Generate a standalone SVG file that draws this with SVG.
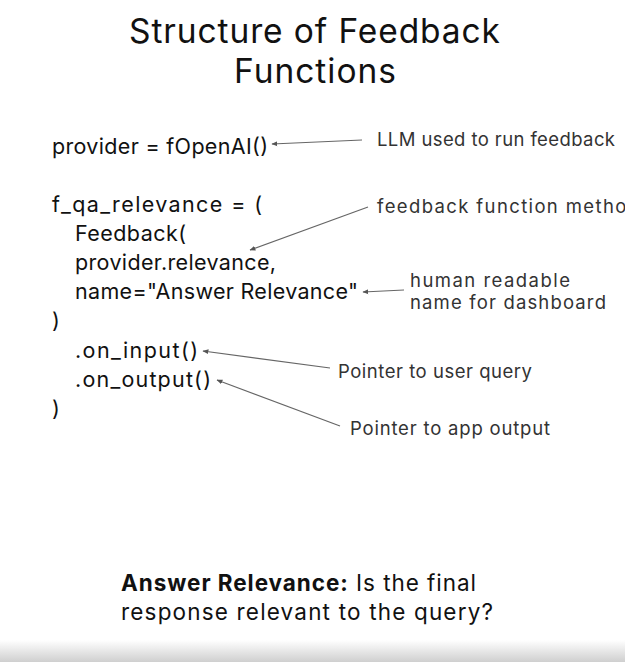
<svg xmlns="http://www.w3.org/2000/svg" width="625" height="662" viewBox="0 0 625 662">
<defs>
<linearGradient id="bot" x1="0" y1="0" x2="0" y2="1">
<stop offset="0" stop-color="#ffffff"/>
<stop offset="1" stop-color="#cfcfcf"/>
</linearGradient>
<marker id="ah" viewBox="0 0 10 10" refX="9" refY="5" markerWidth="6" markerHeight="6" orient="auto" markerUnits="userSpaceOnUse">
<path d="M0,1 L10,5 L0,9 Z" fill="#555"/>
</marker>
<style>
text{font-family:Inter,"Noto Sans",sans-serif;}
.title{font-size:33.5px;fill:#111;text-anchor:middle;}
.code{font-size:21.5px;fill:#111;}
.lab{font-size:18.5px;fill:#333;}
.bot{font-size:22.5px;fill:#111;}
.arr{stroke:#666;stroke-width:1.2;fill:none;marker-end:url(#ah);}
</style>
</defs>
<rect width="625" height="662" fill="#fff"/>
<rect x="0" y="640" width="625" height="22" fill="url(#bot)"/>
<g id="title">
<text class="title" x="314.5" y="43" textLength="371" lengthAdjust="spacing">Structure of Feedback</text>
<text class="title" x="315" y="83" textLength="162" lengthAdjust="spacing">Functions</text>
</g>
<g id="code">
<text class="code" x="52" y="154" textLength="216" lengthAdjust="spacing">provider = fOpenAI()</text>
<text class="code" x="52" y="212" textLength="210" lengthAdjust="spacing">f_qa_relevance = (</text>
<text class="code" x="75" y="241" textLength="111" lengthAdjust="spacing">Feedback(</text>
<text class="code" x="75" y="270" textLength="201" lengthAdjust="spacing">provider.relevance,</text>
<text class="code" x="75" y="299" textLength="283" lengthAdjust="spacing">name="Answer Relevance"</text>
<text class="code" x="52" y="328">)</text>
<text class="code" x="75" y="358" textLength="123" lengthAdjust="spacing">.on_input()</text>
<text class="code" x="75" y="387" textLength="136" lengthAdjust="spacing">.on_output()</text>
<text class="code" x="52" y="416">)</text>
</g>
<g id="labels">
<text class="lab" x="377" y="146" textLength="238" lengthAdjust="spacing">LLM used to run feedback</text>
<text class="lab" x="377" y="213" textLength="262" lengthAdjust="spacing">feedback function method</text>
<text class="lab" x="410" y="287" textLength="160" lengthAdjust="spacing">human readable</text>
<text class="lab" x="410" y="309" textLength="196" lengthAdjust="spacing">name for dashboard</text>
<text class="lab" x="338" y="378" textLength="194" lengthAdjust="spacing">Pointer to user query</text>
<text class="lab" x="350" y="435" textLength="200" lengthAdjust="spacing">Pointer to app output</text>
</g>
<g id="connectors">
<line class="arr" x1="362" y1="140" x2="272" y2="144"/>
<line class="arr" x1="368" y1="207" x2="250" y2="250"/>
<line class="arr" x1="404" y1="290" x2="363" y2="292"/>
<line class="arr" x1="330" y1="368" x2="203" y2="351"/>
<line class="arr" x1="340" y1="426" x2="217" y2="380"/>
</g>
<g id="summary">
<text class="bot" x="121" y="591" textLength="355" lengthAdjust="spacing"><tspan font-weight="bold">Answer Relevance:</tspan> Is the final</text>
<text class="bot" x="121" y="620" textLength="372" lengthAdjust="spacing">response relevant to the query?</text>
</g>
</svg>
